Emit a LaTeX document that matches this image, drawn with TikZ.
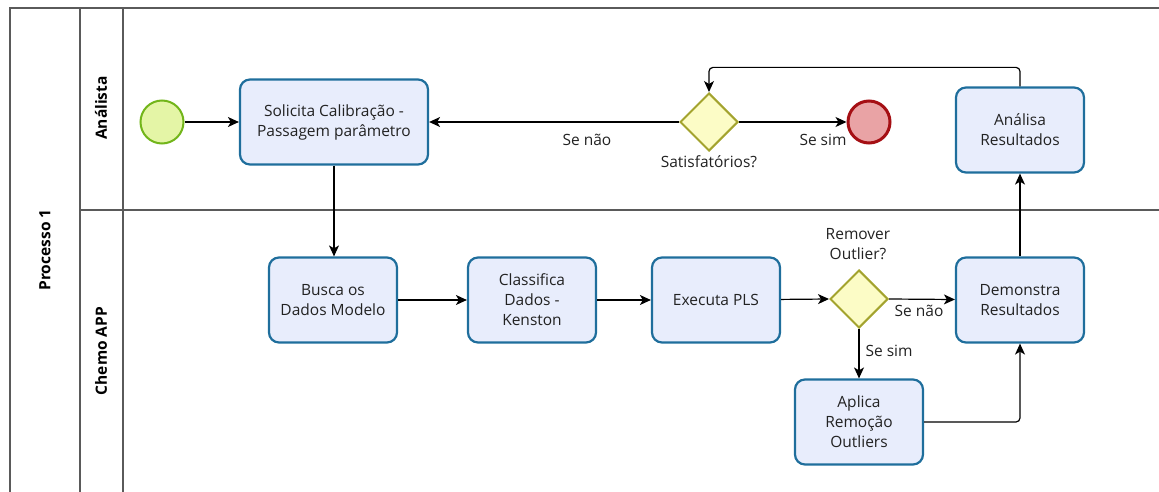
\documentclass[tikz,border=0pt]{standalone}
\usepackage{fontspec}
\setmainfont{Open Sans}
\usetikzlibrary{shapes.geometric,arrows.meta}
\definecolor{taskfill}{HTML}{E8EDFC}
\definecolor{taskline}{HTML}{1F6E9C}
\definecolor{gwfill}{HTML}{FCFCC6}
\definecolor{gwline}{HTML}{A3A32E}
\definecolor{startfill}{HTML}{E4F5A6}
\definecolor{startline}{HTML}{72B51A}
\definecolor{endfill}{HTML}{E9A3A5}
\definecolor{endline}{HTML}{A50F14}
\definecolor{laneline}{HTML}{5A5A5A}
\definecolor{txt}{HTML}{222222}
\begin{document}
\begin{tikzpicture}[x=1pt,y=-1pt,
  task/.style={draw=taskline, fill=taskfill, line width=2.2pt, rounded corners=10pt,
    minimum width=128pt, minimum height=85pt, align=center, inner sep=2pt,
    font=\fontsize{15.5}{20}\selectfont, text=txt},
  gateway/.style={diamond, draw=gwline, fill=gwfill, line width=2pt,
    minimum width=58pt, minimum height=58pt, inner sep=0pt},
  startev/.style={circle, draw=startline, fill=startfill, line width=2pt, minimum size=43pt, inner sep=0pt},
  endev/.style={circle, draw=endline, fill=endfill, line width=3pt, minimum size=42pt, inner sep=0pt},
  flow/.style={line width=1.2pt, -{Stealth[length=11pt,width=10pt,inset=3pt]}},
  lbl/.style={font=\fontsize{15.5}{20}\selectfont, inner sep=0pt, text=txt, align=center},
  lanetitle/.style={font=\bfseries\fontsize{15.5}{18}\selectfont, rotate=90, text=black}
]
\useasboundingbox (0,0) rectangle (1159,492);

% pool and lanes
\draw[laneline, line width=1.3pt] (10,492) -- (10,8) -- (1159,8);
\draw[laneline, line width=1.3pt] (80,8) -- (80,492);
\draw[laneline, line width=1.3pt] (123,8) -- (123,492);
\draw[laneline, line width=1.3pt] (80,210) -- (1159,210);
\node[lanetitle] (pool) at (45,250) {Processo 1};
\node[lanetitle] (lane1) at (101,108) {Análista};
\node[lanetitle] (lane2) at (101,351) {Chemo APP};

% lane Análista
\node[startev] (start) at (162,122) {};
\node[task, minimum width=188pt] (sol) at (334,122) {Solicita Calibração -\\Passagem parâmetro};
\node[gateway] (gw1) at (709,122) {};
\node[endev] (end) at (869,122) {};
\node[task] (ana) at (1020,130) {Análisa\\Resultados};

% lane Chemo APP
\node[task] (bus) at (333,300) {Busca os\\Dados Modelo};
\node[task] (cla) at (532,300) {Classifica\\Dados -\\Kenston};
\node[task] (exe) at (716,300) {Executa PLS};
\node[gateway] (gw2) at (859,299) {};
\node[task] (dem) at (1020,300) {Demonstra\\Resultados};
\node[task] (apl) at (859,422) {Aplica\\Remoção\\Outliers};

% labels
\node[lbl] (l1) at (587,140) {Se não};
\node[lbl] (l2) at (823,140) {Se sim};
\node[lbl] (l3) at (709,162) {Satisfatórios?};
\node[lbl] (l4) at (858,244) {Remover\\Outlier?};
\node[lbl] (l5) at (919,311) {Se não};
\node[lbl] (l6) at (889,351) {Se sim};

% sequence flows
\draw[flow] (start) -- (sol);
\draw[flow] (gw1.west) -- (sol.east);
\draw[flow] (gw1.east) -- (end);
\draw[flow, rounded corners=4pt] (ana.north) -- ++(0,-19) -| (gw1.north);
\draw[flow] (sol.south) -- (sol.south |- bus.north);
\draw[flow] (bus) -- (cla);
\draw[flow] (cla) -- (exe);
\draw[flow] (exe) -- (gw2.west);
\draw[flow] (gw2.east) -- (dem);
\draw[flow] (gw2.south) -- (apl);
\draw[flow, rounded corners=4pt] (apl.east) -| (dem.south);
\draw[flow] (dem) -- (ana);
\end{tikzpicture}
\end{document}
